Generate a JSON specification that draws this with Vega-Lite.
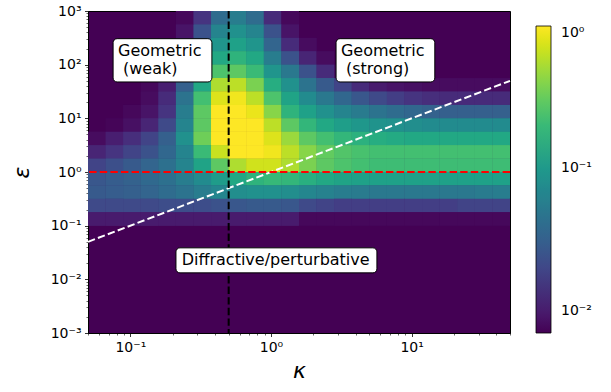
{
  "$schema": "https://vega.github.io/schema/vega-lite/v6.json",
  "width": 422,
  "height": 322,
  "autosize": "none",
  "padding": {"left": 88, "top": 11, "right": 101, "bottom": 59},
  "background": "white",
  "config": {
    "font": "DejaVu Sans",
    "view": {"stroke": "black", "strokeWidth": 1, "fill": "#440154"},
    "axis": {"domain": true, "domainColor": "black", "domainWidth": 1, "ticks": true, "tickColor": "black", "tickWidth": 0.8, "tickSize": 3.5, "labelFont": "DejaVu Sans", "labelFontSize": 14, "labelColor": "black", "labelPadding": 3.5, "grid": false, "titleFont": "DejaVu Sans", "titleFontSize": 22, "titleFontStyle": "italic", "titleFontWeight": "normal", "titleColor": "black", "zindex": 1}
  },
  "datasets": {
    "cells": [
      {"k0":0.2108,"k1":0.2812,"e0":562.3,"e1":1000,"v":0.0077},
      {"k0":0.2812,"k1":0.3749,"e0":562.3,"e1":1000,"v":0.0147},
      {"k0":0.3749,"k1":0.5,"e0":562.3,"e1":1000,"v":0.0396},
      {"k0":0.5,"k1":0.6668,"e0":562.3,"e1":1000,"v":0.056},
      {"k0":0.6668,"k1":0.8891,"e0":562.3,"e1":1000,"v":0.0396},
      {"k0":0.8891,"k1":1.186,"e0":562.3,"e1":1000,"v":0.0127},
      {"k0":1.186,"k1":1.581,"e0":562.3,"e1":1000,"v":0.0077},

      {"k0":0.2108,"k1":0.2812,"e0":316.2,"e1":562.3,"v":0.009},
      {"k0":0.2812,"k1":0.3749,"e0":316.2,"e1":562.3,"v":0.0242},
      {"k0":0.3749,"k1":0.5,"e0":316.2,"e1":562.3,"v":0.065},
      {"k0":0.5,"k1":0.6668,"e0":316.2,"e1":562.3,"v":0.0836},
      {"k0":0.6668,"k1":0.8891,"e0":316.2,"e1":562.3,"v":0.065},
      {"k0":0.8891,"k1":1.186,"e0":316.2,"e1":562.3,"v":0.0242},
      {"k0":1.186,"k1":1.581,"e0":316.2,"e1":562.3,"v":0.009},

      {"k0":0.1581,"k1":0.2108,"e0":177.8,"e1":316.2,"v":0.0077},
      {"k0":0.2108,"k1":0.2812,"e0":177.8,"e1":316.2,"v":0.0115},
      {"k0":0.2812,"k1":0.3749,"e0":177.8,"e1":316.2,"v":0.031},
      {"k0":0.3749,"k1":0.5,"e0":177.8,"e1":316.2,"v":0.0921},
      {"k0":0.5,"k1":0.6668,"e0":177.8,"e1":316.2,"v":0.118},
      {"k0":0.6668,"k1":0.8891,"e0":177.8,"e1":316.2,"v":0.0921},
      {"k0":0.8891,"k1":1.186,"e0":177.8,"e1":316.2,"v":0.0342},
      {"k0":1.186,"k1":1.581,"e0":177.8,"e1":316.2,"v":0.0127},
      {"k0":1.581,"k1":2.108,"e0":177.8,"e1":316.2,"v":0.0081},

      {"k0":0.1581,"k1":0.2108,"e0":100,"e1":177.8,"v":0.0081},
      {"k0":0.2108,"k1":0.2812,"e0":100,"e1":177.8,"v":0.0147},
      {"k0":0.2812,"k1":0.3749,"e0":100,"e1":177.8,"v":0.0509},
      {"k0":0.3749,"k1":0.5,"e0":100,"e1":177.8,"v":0.137},
      {"k0":0.5,"k1":0.6668,"e0":100,"e1":177.8,"v":0.176},
      {"k0":0.6668,"k1":0.8891,"e0":100,"e1":177.8,"v":0.137},
      {"k0":0.8891,"k1":1.186,"e0":100,"e1":177.8,"v":0.056},
      {"k0":1.186,"k1":1.581,"e0":100,"e1":177.8,"v":0.0242},
      {"k0":1.581,"k1":2.108,"e0":100,"e1":177.8,"v":0.0115},
      {"k0":2.108,"k1":2.812,"e0":100,"e1":177.8,"v":0.0081},

      {"k0":0.1186,"k1":0.1581,"e0":56.23,"e1":100,"v":0.0074},
      {"k0":0.1581,"k1":0.2108,"e0":56.23,"e1":100,"v":0.009},
      {"k0":0.2108,"k1":0.2812,"e0":56.23,"e1":100,"v":0.0208},
      {"k0":0.2812,"k1":0.3749,"e0":56.23,"e1":100,"v":0.0836},
      {"k0":0.3749,"k1":0.5,"e0":56.23,"e1":100,"v":0.249},
      {"k0":0.5,"k1":0.6668,"e0":56.23,"e1":100,"v":0.289},
      {"k0":0.6668,"k1":0.8891,"e0":56.23,"e1":100,"v":0.204},
      {"k0":0.8891,"k1":1.186,"e0":56.23,"e1":100,"v":0.0921},
      {"k0":1.186,"k1":1.581,"e0":56.23,"e1":100,"v":0.0509},
      {"k0":1.581,"k1":2.108,"e0":56.23,"e1":100,"v":0.0242},
      {"k0":2.108,"k1":2.812,"e0":56.23,"e1":100,"v":0.0127},
      {"k0":2.812,"k1":3.749,"e0":56.23,"e1":100,"v":0.0085},
      {"k0":3.749,"k1":5,"e0":56.23,"e1":100,"v":0.0074},

      {"k0":0.1186,"k1":0.1581,"e0":31.62,"e1":56.23,"v":0.0077},
      {"k0":0.1581,"k1":0.2108,"e0":31.62,"e1":56.23,"v":0.0104},
      {"k0":0.2108,"k1":0.2812,"e0":31.62,"e1":56.23,"v":0.031},
      {"k0":0.2812,"k1":0.3749,"e0":31.62,"e1":56.23,"v":0.137},
      {"k0":0.3749,"k1":0.5,"e0":31.62,"e1":56.23,"v":0.551},
      {"k0":0.5,"k1":0.6668,"e0":31.62,"e1":56.23,"v":0.609},
      {"k0":0.6668,"k1":0.8891,"e0":31.62,"e1":56.23,"v":0.371},
      {"k0":0.8891,"k1":1.186,"e0":31.62,"e1":56.23,"v":0.152},
      {"k0":1.186,"k1":1.581,"e0":31.62,"e1":56.23,"v":0.0836},
      {"k0":1.581,"k1":2.108,"e0":31.62,"e1":56.23,"v":0.0459},
      {"k0":2.108,"k1":2.812,"e0":31.62,"e1":56.23,"v":0.028},
      {"k0":2.812,"k1":3.749,"e0":31.62,"e1":56.23,"v":0.0189},
      {"k0":3.749,"k1":5,"e0":31.62,"e1":56.23,"v":0.0127},
      {"k0":5,"k1":6.668,"e0":31.62,"e1":56.23,"v":0.0099},
      {"k0":6.668,"k1":8.891,"e0":31.62,"e1":56.23,"v":0.009},
      {"k0":8.891,"k1":11.86,"e0":31.62,"e1":56.23,"v":0.0085},
      {"k0":11.86,"k1":15.81,"e0":31.62,"e1":56.23,"v":0.0081},
      {"k0":15.81,"k1":21.08,"e0":31.62,"e1":56.23,"v":0.0081},
      {"k0":21.08,"k1":28.12,"e0":31.62,"e1":56.23,"v":0.0081},
      {"k0":28.12,"k1":37.49,"e0":31.62,"e1":56.23,"v":0.0081},
      {"k0":37.49,"k1":50,"e0":31.62,"e1":56.23,"v":0.0081},

      {"k0":0.1186,"k1":0.1581,"e0":17.78,"e1":31.62,"v":0.0081},
      {"k0":0.1581,"k1":0.2108,"e0":17.78,"e1":31.62,"v":0.0127},
      {"k0":0.2108,"k1":0.2812,"e0":17.78,"e1":31.62,"v":0.0459},
      {"k0":0.2812,"k1":0.3749,"e0":17.78,"e1":31.62,"v":0.226},
      {"k0":0.3749,"k1":0.5,"e0":17.78,"e1":31.62,"v":0.78},
      {"k0":0.5,"k1":0.6668,"e0":17.78,"e1":31.62,"v":0.906},
      {"k0":0.6668,"k1":0.8891,"e0":17.78,"e1":31.62,"v":0.609},
      {"k0":0.8891,"k1":1.186,"e0":17.78,"e1":31.62,"v":0.249},
      {"k0":1.186,"k1":1.581,"e0":17.78,"e1":31.62,"v":0.124},
      {"k0":1.581,"k1":2.108,"e0":17.78,"e1":31.62,"v":0.0753},
      {"k0":2.108,"k1":2.812,"e0":17.78,"e1":31.62,"v":0.0509},
      {"k0":2.812,"k1":3.749,"e0":17.78,"e1":31.62,"v":0.0359},
      {"k0":3.749,"k1":5,"e0":17.78,"e1":31.62,"v":0.0267},
      {"k0":5,"k1":6.668,"e0":17.78,"e1":31.62,"v":0.0208},
      {"k0":6.668,"k1":8.891,"e0":17.78,"e1":31.62,"v":0.0171},
      {"k0":8.891,"k1":11.86,"e0":17.78,"e1":31.62,"v":0.0147},
      {"k0":11.86,"k1":15.81,"e0":17.78,"e1":31.62,"v":0.0133},
      {"k0":15.81,"k1":21.08,"e0":17.78,"e1":31.62,"v":0.0127},
      {"k0":21.08,"k1":28.12,"e0":17.78,"e1":31.62,"v":0.0127},
      {"k0":28.12,"k1":37.49,"e0":17.78,"e1":31.62,"v":0.0127},
      {"k0":37.49,"k1":50,"e0":17.78,"e1":31.62,"v":0.0127},

      {"k0":0.08891,"k1":0.1186,"e0":10,"e1":17.78,"v":0.0077},
      {"k0":0.1186,"k1":0.1581,"e0":10,"e1":17.78,"v":0.009},
      {"k0":0.1581,"k1":0.2108,"e0":10,"e1":17.78,"v":0.0147},
      {"k0":0.2108,"k1":0.2812,"e0":10,"e1":17.78,"v":0.056},
      {"k0":0.2812,"k1":0.3749,"e0":10,"e1":17.78,"v":0.289},
      {"k0":0.3749,"k1":0.5,"e0":10,"e1":17.78,"v":1.2},
      {"k0":0.5,"k1":0.6668,"e0":10,"e1":17.78,"v":1.2},
      {"k0":0.6668,"k1":0.8891,"e0":10,"e1":17.78,"v":0.862},
      {"k0":0.8891,"k1":1.186,"e0":10,"e1":17.78,"v":0.41},
      {"k0":1.186,"k1":1.581,"e0":10,"e1":17.78,"v":0.176},
      {"k0":1.581,"k1":2.108,"e0":10,"e1":17.78,"v":0.118},
      {"k0":2.108,"k1":2.812,"e0":10,"e1":17.78,"v":0.0836},
      {"k0":2.812,"k1":3.749,"e0":10,"e1":17.78,"v":0.065},
      {"k0":3.749,"k1":5,"e0":10,"e1":17.78,"v":0.0534},
      {"k0":5,"k1":6.668,"e0":10,"e1":17.78,"v":0.0459},
      {"k0":6.668,"k1":8.891,"e0":10,"e1":17.78,"v":0.0396},
      {"k0":8.891,"k1":11.86,"e0":10,"e1":17.78,"v":0.0359},
      {"k0":11.86,"k1":15.81,"e0":10,"e1":17.78,"v":0.0326},
      {"k0":15.81,"k1":21.08,"e0":10,"e1":17.78,"v":0.031},
      {"k0":21.08,"k1":28.12,"e0":10,"e1":17.78,"v":0.031},
      {"k0":28.12,"k1":37.49,"e0":10,"e1":17.78,"v":0.031},
      {"k0":37.49,"k1":50,"e0":10,"e1":17.78,"v":0.031},

      {"k0":0.06668,"k1":0.08891,"e0":5.623,"e1":10,"v":0.0074},
      {"k0":0.08891,"k1":0.1186,"e0":5.623,"e1":10,"v":0.0085},
      {"k0":0.1186,"k1":0.1581,"e0":5.623,"e1":10,"v":0.0115},
      {"k0":0.1581,"k1":0.2108,"e0":5.623,"e1":10,"v":0.0208},
      {"k0":0.2108,"k1":0.2812,"e0":5.623,"e1":10,"v":0.065},
      {"k0":0.2812,"k1":0.3749,"e0":5.623,"e1":10,"v":0.289},
      {"k0":0.3749,"k1":0.5,"e0":5.623,"e1":10,"v":1.2},
      {"k0":0.5,"k1":0.6668,"e0":5.623,"e1":10,"v":1.2},
      {"k0":0.6668,"k1":0.8891,"e0":5.623,"e1":10,"v":1.2},
      {"k0":0.8891,"k1":1.186,"e0":5.623,"e1":10,"v":0.609},
      {"k0":1.186,"k1":1.581,"e0":5.623,"e1":10,"v":0.289},
      {"k0":1.581,"k1":2.108,"e0":5.623,"e1":10,"v":0.185},
      {"k0":2.108,"k1":2.812,"e0":5.623,"e1":10,"v":0.137},
      {"k0":2.812,"k1":3.749,"e0":5.623,"e1":10,"v":0.112},
      {"k0":3.749,"k1":5,"e0":5.623,"e1":10,"v":0.0968},
      {"k0":5,"k1":6.668,"e0":5.623,"e1":10,"v":0.0877},
      {"k0":6.668,"k1":8.891,"e0":5.623,"e1":10,"v":0.0836},
      {"k0":8.891,"k1":11.86,"e0":5.623,"e1":10,"v":0.079},
      {"k0":11.86,"k1":15.81,"e0":5.623,"e1":10,"v":0.0753},
      {"k0":15.81,"k1":21.08,"e0":5.623,"e1":10,"v":0.0753},
      {"k0":21.08,"k1":28.12,"e0":5.623,"e1":10,"v":0.0753},
      {"k0":28.12,"k1":37.49,"e0":5.623,"e1":10,"v":0.0753},
      {"k0":37.49,"k1":50,"e0":5.623,"e1":10,"v":0.0753},

      {"k0":0.05,"k1":0.06668,"e0":3.162,"e1":5.623,"v":0.0081},
      {"k0":0.06668,"k1":0.08891,"e0":3.162,"e1":5.623,"v":0.0104},
      {"k0":0.08891,"k1":0.1186,"e0":3.162,"e1":5.623,"v":0.0133},
      {"k0":0.1186,"k1":0.1581,"e0":3.162,"e1":5.623,"v":0.0189},
      {"k0":0.1581,"k1":0.2108,"e0":3.162,"e1":5.623,"v":0.031},
      {"k0":0.2108,"k1":0.2812,"e0":3.162,"e1":5.623,"v":0.0836},
      {"k0":0.2812,"k1":0.3749,"e0":3.162,"e1":5.623,"v":0.335},
      {"k0":0.3749,"k1":0.5,"e0":3.162,"e1":5.623,"v":1.2},
      {"k0":0.5,"k1":0.6668,"e0":3.162,"e1":5.623,"v":1.2},
      {"k0":0.6668,"k1":0.8891,"e0":3.162,"e1":5.623,"v":1.2},
      {"k0":0.8891,"k1":1.186,"e0":3.162,"e1":5.623,"v":0.78},
      {"k0":1.186,"k1":1.581,"e0":3.162,"e1":5.623,"v":0.477},
      {"k0":1.581,"k1":2.108,"e0":3.162,"e1":5.623,"v":0.289},
      {"k0":2.108,"k1":2.812,"e0":3.162,"e1":5.623,"v":0.226},
      {"k0":2.812,"k1":3.749,"e0":3.162,"e1":5.623,"v":0.185},
      {"k0":3.749,"k1":5,"e0":3.162,"e1":5.623,"v":0.167},
      {"k0":5,"k1":6.668,"e0":3.162,"e1":5.623,"v":0.152},
      {"k0":6.668,"k1":8.891,"e0":3.162,"e1":5.623,"v":0.144},
      {"k0":8.891,"k1":11.86,"e0":3.162,"e1":5.623,"v":0.137},
      {"k0":11.86,"k1":15.81,"e0":3.162,"e1":5.623,"v":0.137},
      {"k0":15.81,"k1":21.08,"e0":3.162,"e1":5.623,"v":0.137},
      {"k0":21.08,"k1":28.12,"e0":3.162,"e1":5.623,"v":0.137},
      {"k0":28.12,"k1":37.49,"e0":3.162,"e1":5.623,"v":0.137},
      {"k0":37.49,"k1":50,"e0":3.162,"e1":5.623,"v":0.137},

      {"k0":0.05,"k1":0.06668,"e0":1.778,"e1":3.162,"v":0.0115},
      {"k0":0.06668,"k1":0.08891,"e0":1.778,"e1":3.162,"v":0.0147},
      {"k0":0.08891,"k1":0.1186,"e0":1.778,"e1":3.162,"v":0.0189},
      {"k0":0.1186,"k1":0.1581,"e0":1.778,"e1":3.162,"v":0.0242},
      {"k0":0.1581,"k1":0.2108,"e0":1.778,"e1":3.162,"v":0.0359},
      {"k0":0.2108,"k1":0.2812,"e0":1.778,"e1":3.162,"v":0.065},
      {"k0":0.2812,"k1":0.3749,"e0":1.778,"e1":3.162,"v":0.204},
      {"k0":0.3749,"k1":0.5,"e0":1.778,"e1":3.162,"v":0.673},
      {"k0":0.5,"k1":0.6668,"e0":1.778,"e1":3.162,"v":1.2},
      {"k0":0.6668,"k1":0.8891,"e0":1.778,"e1":3.162,"v":1.2},
      {"k0":0.8891,"k1":1.186,"e0":1.778,"e1":3.162,"v":0.906},
      {"k0":1.186,"k1":1.581,"e0":1.778,"e1":3.162,"v":0.609},
      {"k0":1.581,"k1":2.108,"e0":1.778,"e1":3.162,"v":0.41},
      {"k0":2.108,"k1":2.812,"e0":1.778,"e1":3.162,"v":0.304},
      {"k0":2.812,"k1":3.749,"e0":1.778,"e1":3.162,"v":0.262},
      {"k0":3.749,"k1":5,"e0":1.778,"e1":3.162,"v":0.237},
      {"k0":5,"k1":6.668,"e0":1.778,"e1":3.162,"v":0.226},
      {"k0":6.668,"k1":8.891,"e0":1.778,"e1":3.162,"v":0.226},
      {"k0":8.891,"k1":11.86,"e0":1.778,"e1":3.162,"v":0.226},
      {"k0":11.86,"k1":15.81,"e0":1.778,"e1":3.162,"v":0.226},
      {"k0":15.81,"k1":21.08,"e0":1.778,"e1":3.162,"v":0.226},
      {"k0":21.08,"k1":28.12,"e0":1.778,"e1":3.162,"v":0.226},
      {"k0":28.12,"k1":37.49,"e0":1.778,"e1":3.162,"v":0.226},
      {"k0":37.49,"k1":50,"e0":1.778,"e1":3.162,"v":0.226},

      {"k0":0.05,"k1":0.06668,"e0":1,"e1":1.778,"v":0.0189},
      {"k0":0.06668,"k1":0.08891,"e0":1,"e1":1.778,"v":0.0229},
      {"k0":0.08891,"k1":0.1186,"e0":1,"e1":1.778,"v":0.028},
      {"k0":0.1186,"k1":0.1581,"e0":1,"e1":1.778,"v":0.0342},
      {"k0":0.1581,"k1":0.2108,"e0":1,"e1":1.778,"v":0.0436},
      {"k0":0.2108,"k1":0.2812,"e0":1,"e1":1.778,"v":0.065},
      {"k0":0.2812,"k1":0.3749,"e0":1,"e1":1.778,"v":0.124},
      {"k0":0.3749,"k1":0.5,"e0":1,"e1":1.778,"v":0.289},
      {"k0":0.5,"k1":0.6668,"e0":1,"e1":1.778,"v":0.551},
      {"k0":0.6668,"k1":0.8891,"e0":1,"e1":1.778,"v":0.707},
      {"k0":0.8891,"k1":1.186,"e0":1,"e1":1.778,"v":0.707},
      {"k0":1.186,"k1":1.581,"e0":1,"e1":1.778,"v":0.551},
      {"k0":1.581,"k1":2.108,"e0":1,"e1":1.778,"v":0.371},
      {"k0":2.108,"k1":2.812,"e0":1,"e1":1.778,"v":0.289},
      {"k0":2.812,"k1":3.749,"e0":1,"e1":1.778,"v":0.249},
      {"k0":3.749,"k1":5,"e0":1,"e1":1.778,"v":0.226},
      {"k0":5,"k1":6.668,"e0":1,"e1":1.778,"v":0.214},
      {"k0":6.668,"k1":8.891,"e0":1,"e1":1.778,"v":0.214},
      {"k0":8.891,"k1":11.86,"e0":1,"e1":1.778,"v":0.214},
      {"k0":11.86,"k1":15.81,"e0":1,"e1":1.778,"v":0.214},
      {"k0":15.81,"k1":21.08,"e0":1,"e1":1.778,"v":0.214},
      {"k0":21.08,"k1":28.12,"e0":1,"e1":1.778,"v":0.214},
      {"k0":28.12,"k1":37.49,"e0":1,"e1":1.778,"v":0.214},
      {"k0":37.49,"k1":50,"e0":1,"e1":1.778,"v":0.214},

      {"k0":0.05,"k1":0.06668,"e0":0.5623,"e1":1,"v":0.0267},
      {"k0":0.06668,"k1":0.08891,"e0":0.5623,"e1":1,"v":0.0294},
      {"k0":0.08891,"k1":0.1186,"e0":0.5623,"e1":1,"v":0.0326},
      {"k0":0.1186,"k1":0.1581,"e0":0.5623,"e1":1,"v":0.0377},
      {"k0":0.1581,"k1":0.2108,"e0":0.5623,"e1":1,"v":0.0436},
      {"k0":0.2108,"k1":0.2812,"e0":0.5623,"e1":1,"v":0.056},
      {"k0":0.2812,"k1":0.3749,"e0":0.5623,"e1":1,"v":0.0753},
      {"k0":0.3749,"k1":0.5,"e0":0.5623,"e1":1,"v":0.107},
      {"k0":0.5,"k1":0.6668,"e0":0.5623,"e1":1,"v":0.137},
      {"k0":0.6668,"k1":0.8891,"e0":0.5623,"e1":1,"v":0.176},
      {"k0":0.8891,"k1":1.186,"e0":0.5623,"e1":1,"v":0.194},
      {"k0":1.186,"k1":1.581,"e0":0.5623,"e1":1,"v":0.185},
      {"k0":1.581,"k1":2.108,"e0":0.5623,"e1":1,"v":0.159},
      {"k0":2.108,"k1":2.812,"e0":0.5623,"e1":1,"v":0.137},
      {"k0":2.812,"k1":3.749,"e0":0.5623,"e1":1,"v":0.124},
      {"k0":3.749,"k1":5,"e0":0.5623,"e1":1,"v":0.118},
      {"k0":5,"k1":6.668,"e0":0.5623,"e1":1,"v":0.118},
      {"k0":6.668,"k1":8.891,"e0":0.5623,"e1":1,"v":0.118},
      {"k0":8.891,"k1":11.86,"e0":0.5623,"e1":1,"v":0.118},
      {"k0":11.86,"k1":15.81,"e0":0.5623,"e1":1,"v":0.118},
      {"k0":15.81,"k1":21.08,"e0":0.5623,"e1":1,"v":0.118},
      {"k0":21.08,"k1":28.12,"e0":0.5623,"e1":1,"v":0.118},
      {"k0":28.12,"k1":37.49,"e0":0.5623,"e1":1,"v":0.118},
      {"k0":37.49,"k1":50,"e0":0.5623,"e1":1,"v":0.118},

      {"k0":0.05,"k1":0.06668,"e0":0.3162,"e1":0.5623,"v":0.028},
      {"k0":0.06668,"k1":0.08891,"e0":0.3162,"e1":0.5623,"v":0.0294},
      {"k0":0.08891,"k1":0.1186,"e0":0.3162,"e1":0.5623,"v":0.031},
      {"k0":0.1186,"k1":0.1581,"e0":0.3162,"e1":0.5623,"v":0.0342},
      {"k0":0.1581,"k1":0.2108,"e0":0.3162,"e1":0.5623,"v":0.0396},
      {"k0":0.2108,"k1":0.2812,"e0":0.3162,"e1":0.5623,"v":0.0459},
      {"k0":0.2812,"k1":0.3749,"e0":0.3162,"e1":0.5623,"v":0.056},
      {"k0":0.3749,"k1":0.5,"e0":0.3162,"e1":0.5623,"v":0.0683},
      {"k0":0.5,"k1":0.6668,"e0":0.3162,"e1":0.5623,"v":0.079},
      {"k0":0.6668,"k1":0.8891,"e0":0.3162,"e1":0.5623,"v":0.0836},
      {"k0":0.8891,"k1":1.186,"e0":0.3162,"e1":0.5623,"v":0.0836},
      {"k0":1.186,"k1":1.581,"e0":0.3162,"e1":0.5623,"v":0.079},
      {"k0":1.581,"k1":2.108,"e0":0.3162,"e1":0.5623,"v":0.0683},
      {"k0":2.108,"k1":2.812,"e0":0.3162,"e1":0.5623,"v":0.062},
      {"k0":2.812,"k1":3.749,"e0":0.3162,"e1":0.5623,"v":0.056},
      {"k0":3.749,"k1":5,"e0":0.3162,"e1":0.5623,"v":0.0534},
      {"k0":5,"k1":6.668,"e0":0.3162,"e1":0.5623,"v":0.0509},
      {"k0":6.668,"k1":8.891,"e0":0.3162,"e1":0.5623,"v":0.0509},
      {"k0":8.891,"k1":11.86,"e0":0.3162,"e1":0.5623,"v":0.0509},
      {"k0":11.86,"k1":15.81,"e0":0.3162,"e1":0.5623,"v":0.0509},
      {"k0":15.81,"k1":21.08,"e0":0.3162,"e1":0.5623,"v":0.0509},
      {"k0":21.08,"k1":28.12,"e0":0.3162,"e1":0.5623,"v":0.0509},
      {"k0":28.12,"k1":37.49,"e0":0.3162,"e1":0.5623,"v":0.0534},
      {"k0":37.49,"k1":50,"e0":0.3162,"e1":0.5623,"v":0.056},

      {"k0":0.05,"k1":0.06668,"e0":0.1778,"e1":0.3162,"v":0.0208},
      {"k0":0.06668,"k1":0.08891,"e0":0.1778,"e1":0.3162,"v":0.0208},
      {"k0":0.08891,"k1":0.1186,"e0":0.1778,"e1":0.3162,"v":0.0208},
      {"k0":0.1186,"k1":0.1581,"e0":0.1778,"e1":0.3162,"v":0.0208},
      {"k0":0.1581,"k1":0.2108,"e0":0.1778,"e1":0.3162,"v":0.0219},
      {"k0":0.2108,"k1":0.2812,"e0":0.1778,"e1":0.3162,"v":0.0219},
      {"k0":0.2812,"k1":0.3749,"e0":0.1778,"e1":0.3162,"v":0.0219},
      {"k0":0.3749,"k1":0.5,"e0":0.1778,"e1":0.3162,"v":0.0242},
      {"k0":0.5,"k1":0.6668,"e0":0.1778,"e1":0.3162,"v":0.0267},
      {"k0":0.6668,"k1":0.8891,"e0":0.1778,"e1":0.3162,"v":0.028},
      {"k0":0.8891,"k1":1.186,"e0":0.1778,"e1":0.3162,"v":0.028},
      {"k0":1.186,"k1":1.581,"e0":0.1778,"e1":0.3162,"v":0.0267},
      {"k0":1.581,"k1":2.108,"e0":0.1778,"e1":0.3162,"v":0.0208},
      {"k0":2.108,"k1":2.812,"e0":0.1778,"e1":0.3162,"v":0.0189},
      {"k0":2.812,"k1":3.749,"e0":0.1778,"e1":0.3162,"v":0.0171},
      {"k0":3.749,"k1":5,"e0":0.1778,"e1":0.3162,"v":0.0171},
      {"k0":5,"k1":6.668,"e0":0.1778,"e1":0.3162,"v":0.0171},
      {"k0":6.668,"k1":8.891,"e0":0.1778,"e1":0.3162,"v":0.0171},
      {"k0":8.891,"k1":11.86,"e0":0.1778,"e1":0.3162,"v":0.0171},
      {"k0":11.86,"k1":15.81,"e0":0.1778,"e1":0.3162,"v":0.0171},
      {"k0":15.81,"k1":21.08,"e0":0.1778,"e1":0.3162,"v":0.0171},
      {"k0":21.08,"k1":28.12,"e0":0.1778,"e1":0.3162,"v":0.0189},
      {"k0":28.12,"k1":37.49,"e0":0.1778,"e1":0.3162,"v":0.0189},
      {"k0":37.49,"k1":50,"e0":0.1778,"e1":0.3162,"v":0.0189},

      {"k0":0.05,"k1":0.06668,"e0":0.1,"e1":0.1778,"v":0.0099},
      {"k0":0.06668,"k1":0.08891,"e0":0.1,"e1":0.1778,"v":0.0099},
      {"k0":0.08891,"k1":0.1186,"e0":0.1,"e1":0.1778,"v":0.0099},
      {"k0":0.1186,"k1":0.1581,"e0":0.1,"e1":0.1778,"v":0.0099},
      {"k0":0.1581,"k1":0.2108,"e0":0.1,"e1":0.1778,"v":0.0099},
      {"k0":0.2108,"k1":0.2812,"e0":0.1,"e1":0.1778,"v":0.0099},
      {"k0":0.2812,"k1":0.3749,"e0":0.1,"e1":0.1778,"v":0.0099},
      {"k0":0.3749,"k1":0.5,"e0":0.1,"e1":0.1778,"v":0.0099},
      {"k0":0.5,"k1":0.6668,"e0":0.1,"e1":0.1778,"v":0.0099},
      {"k0":0.6668,"k1":0.8891,"e0":0.1,"e1":0.1778,"v":0.0099},
      {"k0":0.8891,"k1":1.186,"e0":0.1,"e1":0.1778,"v":0.0099},
      {"k0":1.186,"k1":1.581,"e0":0.1,"e1":0.1778,"v":0.0099},
      {"k0":1.581,"k1":2.108,"e0":0.1,"e1":0.1778,"v":0.0077},
      {"k0":2.108,"k1":2.812,"e0":0.1,"e1":0.1778,"v":0.0077},
      {"k0":2.812,"k1":3.749,"e0":0.1,"e1":0.1778,"v":0.0077},
      {"k0":3.749,"k1":5,"e0":0.1,"e1":0.1778,"v":0.0077},
      {"k0":5,"k1":6.668,"e0":0.1,"e1":0.1778,"v":0.0077},
      {"k0":6.668,"k1":8.891,"e0":0.1,"e1":0.1778,"v":0.0077},
      {"k0":8.891,"k1":11.86,"e0":0.1,"e1":0.1778,"v":0.0077},
      {"k0":11.86,"k1":15.81,"e0":0.1,"e1":0.1778,"v":0.0077},
      {"k0":15.81,"k1":21.08,"e0":0.1,"e1":0.1778,"v":0.0077},
      {"k0":21.08,"k1":28.12,"e0":0.1,"e1":0.1778,"v":0.0077},
      {"k0":28.12,"k1":37.49,"e0":0.1,"e1":0.1778,"v":0.0077},
      {"k0":37.49,"k1":50,"e0":0.1,"e1":0.1778,"v":0.0077}
    ],
    "diag": [{"k": 0.05, "e": 0.05}, {"k": 50, "e": 50}],
    "hline": [{"e": 1}],
    "vline": [{"k": 0.5}],
    "boxes": [
      {"k0": 0.0754, "k1": 0.38, "e0": 47.6, "e1": 305},
      {"k0": 2.9, "k1": 14.6, "e0": 47.6, "e1": 305},
      {"k0": 0.211, "k1": 5.66, "e0": 0.0132, "e1": 0.0386}
    ],
    "labels": [
      {"k": 0.0817, "e": 180, "text": "Geometric"},
      {"k": 0.0887, "e": 83, "text": "(weak)"},
      {"k": 3.14, "e": 180, "text": "Geometric"},
      {"k": 3.41, "e": 83, "text": "(strong)"},
      {"k": 0.2317, "e": 0.0226, "text": "Diffractive/perturbative"}
    ]
  },
  "resolve": {"axis": {"x": "independent", "y": "independent"}},
  "layer": [
    {
      "data": {"name": "cells"},
      "mark": {"type": "rect"},
      "encoding": {
        "x": {"field": "k0", "type": "quantitative", "scale": {"type": "log", "domain": [0.05, 50], "nice": false},
              "axis": {"orient": "bottom", "values": [0.1, 1, 10], "labelExpr": "'10' + replace(replace(replace(replace(replace('' + round(log(datum.value)/LN10), '-', '⁻'), '0', '⁰'), '1', '¹'), '2', '²'), '3', '³')", "title": "κ", "titlePadding": 6}},
        "x2": {"field": "k1"},
        "y": {"field": "e0", "type": "quantitative", "scale": {"type": "log", "domain": [0.001, 1000], "nice": false},
              "axis": {"orient": "left", "values": [0.001, 0.01, 0.1, 1, 10, 100, 1000], "labelExpr": "'10' + replace(replace(replace(replace(replace('' + round(log(datum.value)/LN10), '-', '⁻'), '0', '⁰'), '1', '¹'), '2', '²'), '3', '³')", "title": "ε", "titlePadding": 17}},
        "y2": {"field": "e1"},
        "color": {"field": "v", "type": "quantitative",
                  "scale": {"type": "log", "domain": [0.007, 1], "scheme": "viridis", "clamp": true},
                  "legend": {"type": "gradient", "direction": "vertical", "orient": "right", "offset": 11, "padding": 15, "title": null,
                             "gradientLength": 307, "gradientThickness": 15, "gradientStrokeColor": "black", "gradientStrokeWidth": 0.8,
                             "values": [0.01, 0.1, 1], "labelExpr": "datum.value == 1 ? '10⁰' : datum.value == 0.1 ? '10⁻¹' : '10⁻²'",
                             "labelFont": "DejaVu Sans", "labelFontSize": 14, "labelColor": "black", "labelOffset": 10, "labelBaseline": "middle"}}
      }
    },
    {
      "data": {"name": "cells"},
      "mark": {"type": "rect"},
      "encoding": {
        "x": {"field": "k0", "type": "quantitative", "scale": {"type": "log", "domain": [0.05, 50], "nice": false}, "axis": null},
        "x2": {"field": "k1"},
        "y": {"field": "e0", "type": "quantitative", "scale": {"type": "log", "domain": [0.001, 1000], "nice": false}, "axis": null},
        "y2": {"field": "e1"},
        "color": {"field": "v", "type": "quantitative", "scale": {"type": "log", "domain": [0.007, 1], "scheme": "viridis", "clamp": true}, "legend": null}
      }
    },
    {
      "data": {"name": "diag"},
      "mark": {"type": "line", "color": "white", "strokeWidth": 2, "strokeDash": [7.4, 3.2]},
      "encoding": {
        "x": {"field": "k", "type": "quantitative", "scale": {"type": "log", "domain": [0.05, 50], "nice": false},
              "axis": {"orient": "bottom", "values": [0.05, 0.06, 0.07, 0.08, 0.09, 0.2, 0.3, 0.4, 0.5, 0.6, 0.7, 0.8, 0.9, 2, 3, 4, 5, 6, 7, 8, 9, 20, 30, 40, 50], "labels": false, "domain": false, "tickSize": 2, "tickWidth": 0.6, "title": null}},
        "y": {"field": "e", "type": "quantitative", "scale": {"type": "log", "domain": [0.001, 1000], "nice": false},
              "axis": {"orient": "left", "values": [0.002, 0.003, 0.004, 0.005, 0.006, 0.007, 0.008, 0.009, 0.02, 0.03, 0.04, 0.05, 0.06, 0.07, 0.08, 0.09, 0.2, 0.3, 0.4, 0.5, 0.6, 0.7, 0.8, 0.9, 2, 3, 4, 5, 6, 7, 8, 9, 20, 30, 40, 50, 60, 70, 80, 90, 200, 300, 400, 500, 600, 700, 800, 900], "labels": false, "domain": false, "tickSize": 2, "tickWidth": 0.6, "title": null}}
      }
    },
    {
      "data": {"name": "hline"},
      "mark": {"type": "rule", "color": "red", "strokeWidth": 2, "strokeDash": [7.4, 3.2]},
      "encoding": {
        "y": {"field": "e", "type": "quantitative", "scale": {"type": "log", "domain": [0.001, 1000], "nice": false}, "axis": null}
      }
    },
    {
      "data": {"name": "vline"},
      "mark": {"type": "rule", "color": "black", "strokeWidth": 2, "strokeDash": [7.4, 3.2]},
      "encoding": {
        "x": {"field": "k", "type": "quantitative", "scale": {"type": "log", "domain": [0.05, 50], "nice": false}, "axis": null}
      }
    },
    {
      "data": {"name": "boxes"},
      "mark": {"type": "rect", "fill": "white", "stroke": "black", "strokeWidth": 1, "cornerRadius": 4},
      "encoding": {
        "x": {"field": "k0", "type": "quantitative", "scale": {"type": "log", "domain": [0.05, 50], "nice": false}, "axis": null},
        "x2": {"field": "k1"},
        "y": {"field": "e0", "type": "quantitative", "scale": {"type": "log", "domain": [0.001, 1000], "nice": false}, "axis": null},
        "y2": {"field": "e1"}
      }
    },
    {
      "data": {"name": "labels"},
      "mark": {"type": "text", "align": "left", "baseline": "middle", "font": "DejaVu Sans", "fontSize": 16, "color": "black"},
      "encoding": {
        "x": {"field": "k", "type": "quantitative", "scale": {"type": "log", "domain": [0.05, 50], "nice": false}, "axis": null},
        "y": {"field": "e", "type": "quantitative", "scale": {"type": "log", "domain": [0.001, 1000], "nice": false}, "axis": null},
        "text": {"field": "text"}
      }
    }
  ]
}
